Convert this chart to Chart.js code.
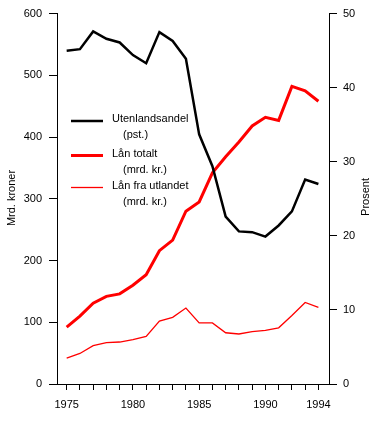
<!DOCTYPE html>
<html lang="no">
<head>
<meta charset="UTF-8" />
<title>Utenlandsandel og lån</title>
<script src="https://cdn.jsdelivr.net/npm/chart.js"></script>
<style>
  body { margin: 0; background: #fff; }
  #wrap { position: relative; width: 376px; height: 435px; }
</style>
</head>
<body>
<div id="wrap"><canvas id="grafikk"></canvas></div>
<script>
// år langs x-aksen
const years = [1975, 1976, 1977, 1978, 1979, 1980, 1981, 1982, 1983, 1984,
               1985, 1986, 1987, 1988, 1989, 1990, 1991, 1992, 1993, 1994];
const yearLabels = [1975, 1980, 1985, 1990, 1994];

// prosent (høyre akse)
const utenlandsandel = [45.0, 45.2, 47.6, 46.6, 46.1, 44.4, 43.3, 47.5, 46.3, 43.9,
                        33.7, 29.4, 22.6, 20.6, 20.5, 19.9, 21.4, 23.3, 27.6, 27.0];
// mrd. kroner (venstre akse)
const lanTotalt = [92, 110, 131, 142, 146, 160, 177, 216, 233, 280,
                   295, 342, 368, 392, 418, 432, 427, 482, 475, 458];
const lanUtland = [42, 49.5, 62, 67, 68, 72, 77, 102, 108, 123,
                   99, 99, 83, 81, 85, 87, 91, 111, 132, 124];

const leftTicks = [0, 100, 200, 300, 400, 500, 600];
const rightTicks = [0, 10, 20, 30, 40, 50];

const FONT = "Arial, 'Liberation Sans', Helvetica, sans-serif";

function pts(arr) {
  return arr.map((v, i) => ({ x: years[i], y: v }));
}

// forklaring og aksetitler tegnes for hånd
const tekstPlugin = {
  id: "tekst",
  afterDraw(chart) {
    const ctx = chart.ctx;
    ctx.save();
    ctx.fillStyle = "#000";
    ctx.font = "11px " + FONT;
    ctx.textBaseline = "alphabetic";

    const rader = [
      { y: 121, color: "#000", w: 2.5, t1: "Utenlandsandel", t2: "(pst.)" },
      { y: 155.5, color: "#ff0000", w: 3, t1: "Lån totalt", t2: "(mrd. kr.)" },
      { y: 187.5, color: "#ff0000", w: 1.3, t1: "Lån fra utlandet", t2: "(mrd. kr.)" }
    ];
    rader.forEach(r => {
      ctx.strokeStyle = r.color;
      ctx.lineWidth = r.w;
      ctx.beginPath();
      ctx.moveTo(71, r.y);
      ctx.lineTo(103, r.y);
      ctx.stroke();
      ctx.textAlign = "left";
      ctx.fillText(r.t1, 112, r.y + 1);
      ctx.fillText(r.t2, 123, r.y + 17);
    });

    // aksetitler, begge leses nedenfra og opp
    ctx.textAlign = "center";
    ctx.textBaseline = "middle";
    ctx.save();
    ctx.translate(12, 198);
    ctx.rotate(-Math.PI / 2);
    ctx.fillText("Mrd. kroner", 0, 0);
    ctx.restore();
    ctx.save();
    ctx.translate(366, 197);
    ctx.rotate(-Math.PI / 2);
    ctx.fillText("Prosent", 0, 0);
    ctx.restore();
    ctx.restore();
  }
};

const akse = {
  grid: { drawOnChartArea: false, drawTicks: true, color: "#000", lineWidth: 1 },
  border: { display: true, color: "#000", width: 1 },
  ticks: { color: "#000", font: { family: FONT, size: 11 } }
};

new Chart(document.getElementById("grafikk"), {
  type: "line",
  data: {
    datasets: [
      {
        label: "Utenlandsandel (pst.)",
        data: pts(utenlandsandel),
        yAxisID: "yR",
        borderColor: "#000",
        borderWidth: 2.5,
        pointRadius: 0,
        tension: 0
      },
      {
        label: "Lån totalt (mrd. kr.)",
        data: pts(lanTotalt),
        yAxisID: "yL",
        borderColor: "#ff0000",
        borderWidth: 3,
        pointRadius: 0,
        tension: 0
      },
      {
        label: "Lån fra utlandet (mrd. kr.)",
        data: pts(lanUtland),
        yAxisID: "yL",
        borderColor: "#ff0000",
        borderWidth: 1.3,
        pointRadius: 0,
        tension: 0
      }
    ]
  },
  options: {
    responsive: true,
    maintainAspectRatio: false,
    animation: false,
    layout: { padding: { top: 12, left: 0, right: 0, bottom: 0 } },
    plugins: { legend: { display: false }, tooltip: { enabled: false } },
    scales: {
      x: {
        type: "linear",
        min: 1974.27,
        max: 1994.8,
        grid: { ...akse.grid, tickLength: 6 },
        border: akse.border,
        afterBuildTicks: s => { s.ticks = years.map(v => ({ value: v })); },
        afterFit: s => { s.height = 51; },
        ticks: {
          ...akse.ticks,
          padding: 8,
          autoSkip: false,
          maxRotation: 0,
          callback: v => yearLabels.includes(v) ? String(v) : ""
        }
      },
      yL: {
        position: "left",
        min: 0,
        max: 600,
        grid: { ...akse.grid, tickLength: 8 },
        border: akse.border,
        afterBuildTicks: s => { s.ticks = leftTicks.map(v => ({ value: v })); },
        afterFit: s => { s.width = 57; },
        ticks: { ...akse.ticks, padding: 7 }
      },
      yR: {
        position: "right",
        min: 0,
        max: 50,
        grid: { ...akse.grid, tickLength: 8 },
        border: akse.border,
        afterBuildTicks: s => { s.ticks = rightTicks.map(v => ({ value: v })); },
        afterFit: s => { s.width = 47; },
        ticks: { ...akse.ticks, padding: 6 }
      }
    }
  },
  plugins: [tekstPlugin]
});
</script>
</body>
</html>
